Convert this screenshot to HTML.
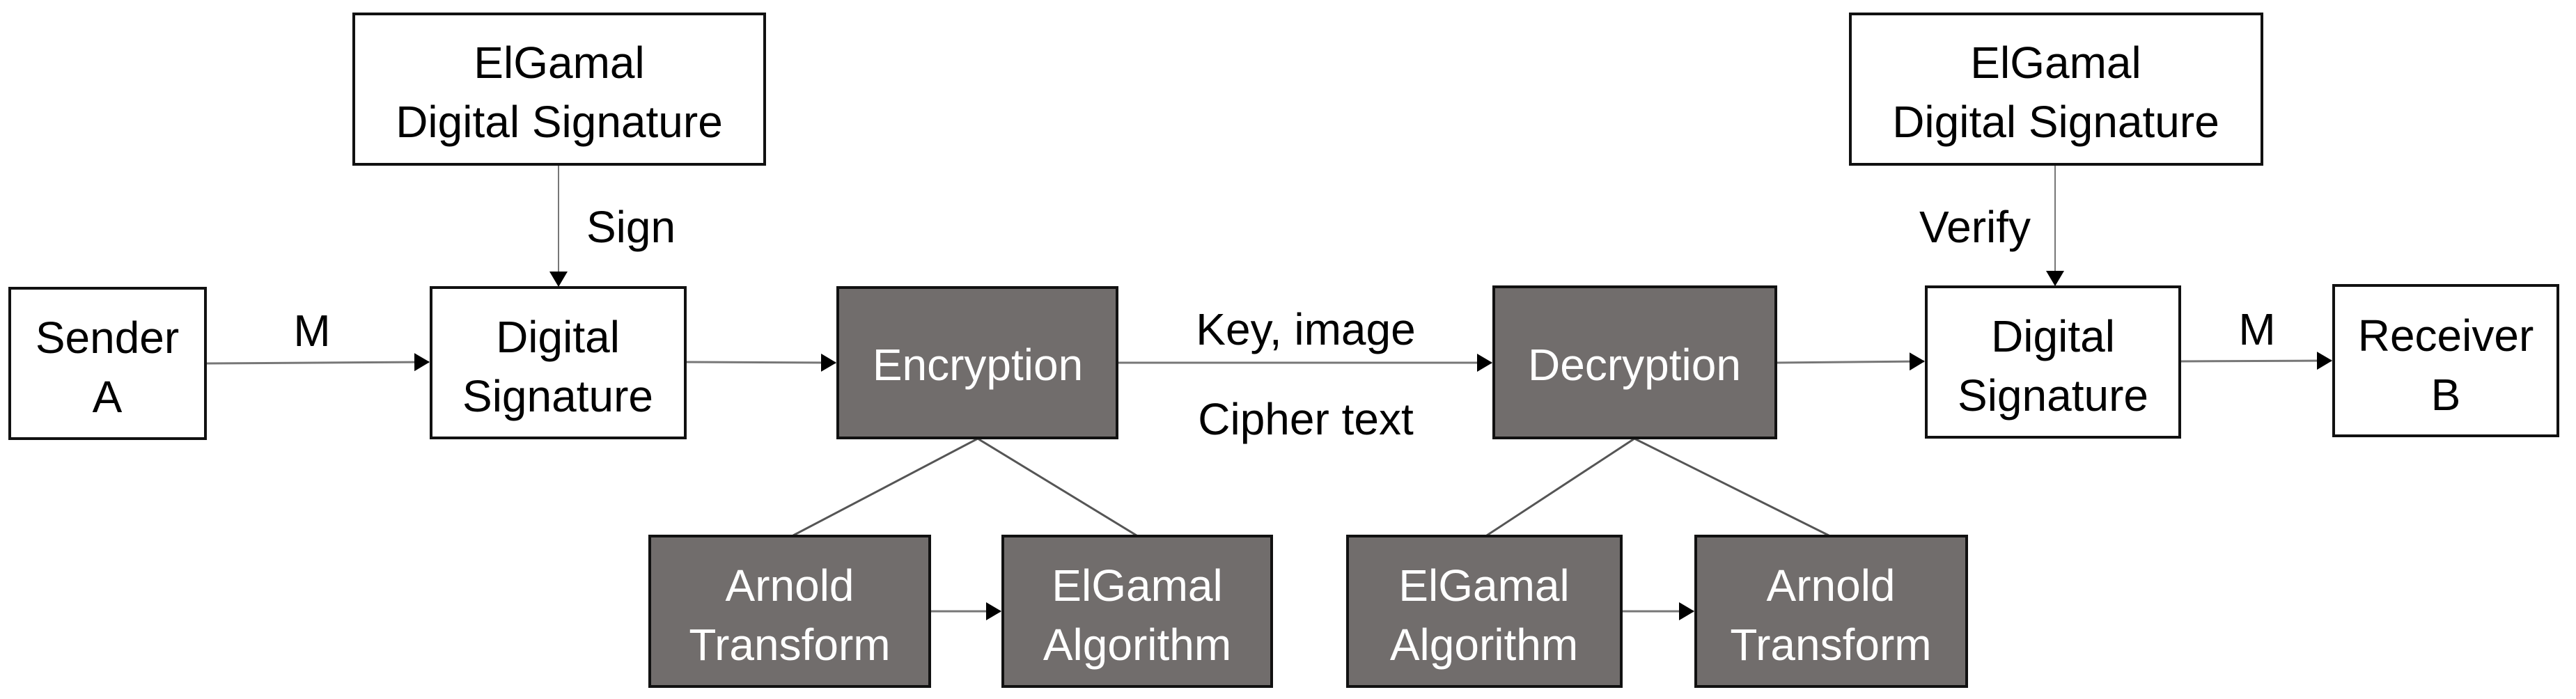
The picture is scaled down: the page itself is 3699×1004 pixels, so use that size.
<!DOCTYPE html>
<html><head><meta charset="utf-8"><style>
html,body{margin:0;padding:0;background:#fff;}
svg{display:block;}
text{font-family:"Liberation Sans",sans-serif;font-size:64px;text-anchor:middle;}
.w{fill:#000;}
.d{fill:#fff;}
</style></head><body>
<svg width="3699" height="1004" viewBox="0 0 3699 1004" xmlns="http://www.w3.org/2000/svg">
<defs>
<marker id="a" markerWidth="22" markerHeight="26" refX="21" refY="13" orient="auto" markerUnits="userSpaceOnUse">
<path d="M0,0 L22,13 L0,26 Z" fill="#000"/>
</marker>
</defs>
<g stroke="#777" stroke-width="3" fill="none">
<line x1="295" y1="522" x2="616" y2="520" marker-end="url(#a)"/>
<line x1="984" y1="520" x2="1200" y2="521" marker-end="url(#a)"/>
<line x1="1604" y1="521" x2="2142" y2="521" marker-end="url(#a)"/>
<line x1="2550" y1="521" x2="2763" y2="519" marker-end="url(#a)"/>
<line x1="3130" y1="519" x2="3348" y2="518" marker-end="url(#a)"/>
<line x1="802" y1="236" x2="802" y2="411" marker-end="url(#a)" stroke-width="2"/>
<line x1="2951" y1="236" x2="2951" y2="410" marker-end="url(#a)" stroke-width="2"/>
<line x1="1335" y1="878" x2="1437" y2="878" marker-end="url(#a)"/>
<line x1="2328" y1="878" x2="2432" y2="878" marker-end="url(#a)"/>
<line x1="1404" y1="630" x2="1139" y2="769" stroke="#555"/>
<line x1="1404" y1="630" x2="1632" y2="769" stroke="#555"/>
<line x1="2347" y1="630" x2="2135" y2="769" stroke="#555"/>
<line x1="2347" y1="630" x2="2626" y2="769" stroke="#555"/>
</g>
<g stroke="#111" stroke-width="4">
<rect x="14" y="414" width="281" height="216" fill="#fff"/>
<rect x="508" y="20" width="590" height="216" fill="#fff"/>
<rect x="619" y="413" width="365" height="216" fill="#fff"/>
<rect x="1203" y="413" width="401" height="216" fill="#716d6c"/>
<rect x="933" y="770" width="402" height="216" fill="#716d6c"/>
<rect x="1440" y="770" width="386" height="216" fill="#716d6c"/>
<rect x="2145" y="412" width="405" height="217" fill="#716d6c"/>
<rect x="1935" y="770" width="393" height="216" fill="#716d6c"/>
<rect x="2435" y="770" width="389" height="216" fill="#716d6c"/>
<rect x="2657" y="20" width="591" height="216" fill="#fff"/>
<rect x="2766" y="412" width="364" height="216" fill="#fff"/>
<rect x="3351" y="410" width="322" height="216" fill="#fff"/>
</g>
<g class="w">
<text x="154" y="507">Sender</text><text x="154" y="592">A</text>
<text x="803" y="112">ElGamal</text><text x="803" y="197">Digital Signature</text>
<text x="801" y="506">Digital</text><text x="801" y="591">Signature</text>
<text x="2952" y="112">ElGamal</text><text x="2952" y="197">Digital Signature</text>
<text x="2948" y="505">Digital</text><text x="2948" y="590">Signature</text>
<text x="3512" y="504">Receiver</text><text x="3512" y="589">B</text>
<text x="448" y="497">M</text>
<text x="906" y="348">Sign</text>
<text x="1875" y="495">Key, image</text>
<text x="1875" y="624">Cipher text</text>
<text x="2836" y="348">Verify</text>
<text x="3241" y="495">M</text>
</g>
<g class="d">
<text x="1404" y="546">Encryption</text>
<text x="2347" y="546">Decryption</text>
<text x="1134" y="863">Arnold</text><text x="1134" y="948">Transform</text>
<text x="1633" y="863">ElGamal</text><text x="1633" y="948">Algorithm</text>
<text x="2131" y="863">ElGamal</text><text x="2131" y="948">Algorithm</text>
<text x="2629" y="863">Arnold</text><text x="2629" y="948">Transform</text>
</g>
</svg>
</body></html>
